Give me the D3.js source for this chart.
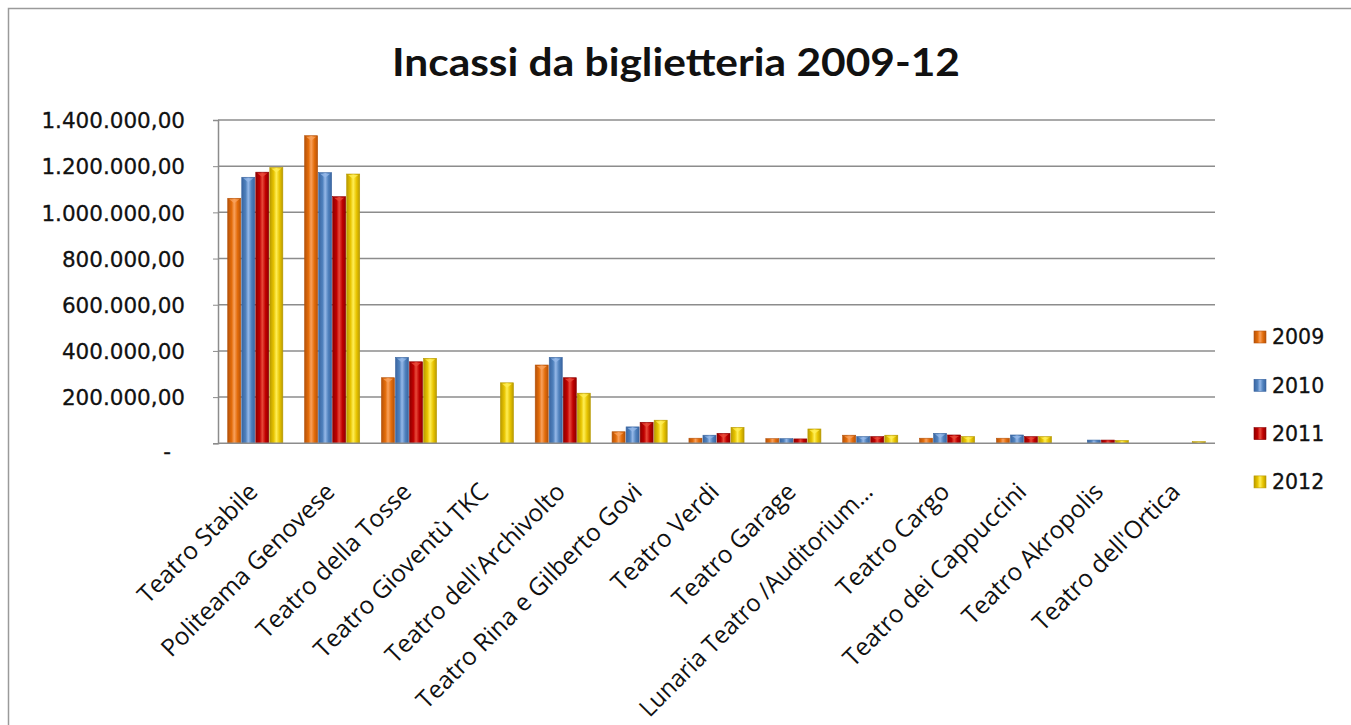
<!DOCTYPE html>
<html><head><meta charset="utf-8">
<script src="https://cdn.jsdelivr.net/npm/d3@7"></script>
<style>body{margin:0;background:#fff}svg{display:block}</style>
</head><body>
<svg id="c" width="1351" height="725"></svg>
<script>
const categories = ["Teatro Stabile","Politeama Genovese","Teatro della Tosse","Teatro Gioventù TKC","Teatro dell'Archivolto","Teatro Rina e Gilberto Govi","Teatro Verdi","Teatro Garage","Lunaria Teatro /Auditorium…","Teatro Cargo","Teatro dei Cappuccini","Teatro Akropolis","Teatro dell'Ortica"];
const seriesNames = ["2009","2010","2011","2012"];
const v2009 = [1061000,1332000,284000,0,339000,50000,22000,20000,35000,22000,22000,0,0];
const v2010 = [1152000,1172000,372000,0,372000,71000,35000,20000,29000,43000,36000,14000,0];
const v2011 = [1174000,1068000,353000,0,284000,91000,43000,19000,29000,36000,29000,14000,0];
const v2012 = [1194000,1166000,368000,262000,217000,100000,69000,62000,35000,29000,29000,12000,7000];
const yTicks = [0,200000,400000,600000,800000,1000000,1200000,1400000];
const titleText = "Incassi da biglietteria 2009-12";

const seriesValues = [v2009,v2010,v2011,v2012];
const colors = [
  {base:"#E36C0A", dark:"#B5520A", light:"#F9A15C"},
  {base:"#4F81BD", dark:"#3A65A0", light:"#95B8E8"},
  {base:"#C00000", dark:"#8E0000", light:"#E84A3A"},
  {base:"#E8C400", dark:"#B89A00", light:"#FFEE55"}
];

const svg = d3.select("#c");
const defs = svg.append("defs");
colors.forEach((c,i)=>{
  const g = defs.append("linearGradient").attr("id","g"+i).attr("x1","0").attr("x2","1").attr("y1","0").attr("y2","0");
  g.append("stop").attr("offset","0").attr("stop-color",c.dark);
  g.append("stop").attr("offset","0.3").attr("stop-color",c.base);
  g.append("stop").attr("offset","0.5").attr("stop-color",c.light);
  g.append("stop").attr("offset","0.75").attr("stop-color",c.base);
  g.append("stop").attr("offset","1").attr("stop-color",c.dark);
});

// frame
svg.append("path").attr("d","M8.5,725 V8.5 H1351").attr("fill","none").attr("stroke","#9a9a9a").attr("stroke-width",1.5);

const loc = d3.formatLocale({decimal:",",thousands:".",grouping:[3],currency:["",""]});
const fmt = loc.format(",.2f");

const x0 = d3.scaleBand().domain(categories).range([218,1215]).paddingInner(0.27).paddingOuter(0.12);
const x1 = d3.scaleBand().domain(seriesNames).range([0,x0.bandwidth()]).padding(0);
const y = d3.scaleLinear().domain([0,1400000]).range([443.3,120]);

// gridlines
svg.append("g").selectAll("line").data(yTicks.filter(d=>d>0)).join("line")
  .attr("x1",218).attr("x2",1215).attr("y1",d=>y(d)).attr("y2",d=>y(d))
  .attr("stroke","#8c8c8c").attr("stroke-width",1.5);

// y axis
const ya = svg.append("g").attr("transform","translate(218,0)")
  .call(d3.axisLeft(y).tickValues(yTicks).tickSize(5).tickPadding(28).tickFormat(d=>d===0?"-":fmt(d)));
ya.select(".domain").attr("stroke","#8c8c8c").attr("stroke-width",1.5);
ya.selectAll(".tick line").attr("stroke","#8c8c8c");
ya.selectAll(".tick text").attr("font-family","DejaVu Sans").attr("font-size","21.5px").attr("fill","#111")
  .attr("stroke","#111").attr("stroke-width",0.3).attr("dy","0.36em");
ya.selectAll(".tick").filter(d=>d===0).select("text").attr("dx",-14).attr("dy","0.7em");

// bars
const groups = svg.append("g").selectAll("g").data(categories).join("g")
  .attr("transform",d=>`translate(${x0(d)},0)`);
groups.each(function(cat,ci){
  const g = d3.select(this);
  seriesNames.forEach((s,si)=>{
    const val = seriesValues[si][ci];
    if(!val) return;
    const bx = x1(s), bw = x1.bandwidth();
    const top = y(val), h = y(0)-top;
    g.append("rect").attr("x",bx+0.5).attr("y",top).attr("width",bw-1).attr("height",h)
      .attr("fill",`url(#g${si})`).attr("stroke",colors[si].dark).attr("stroke-width",0.6);
    if(h>6){
      g.append("path").attr("d",`M${bx+2},${top+1} L${bx+bw-2},${top+1} L${bx+bw/2},${top+Math.min(5,h/2)} Z`)
        .attr("fill",colors[si].light).attr("opacity",0.8);
    }
  });
});

// baseline
svg.append("line").attr("x1",218).attr("x2",1215).attr("y1",y(0)).attr("y2",y(0)).attr("stroke","#8c8c8c").attr("stroke-width",1.5);

// x labels
const xl = svg.append("g").selectAll("text").data(categories).join("text")
  .attr("transform",d=>`translate(${x0(d)+x0.bandwidth()/2+4},${y(0)+50}) rotate(-45)`)
  .attr("text-anchor","end")
  .attr("font-family","Open Sans").attr("font-size","24.5px").attr("fill","#111")
  .text(d=>d);
xl.each(function(){
  const L = this.getComputedTextLength();
  if(L>318) d3.select(this).attr("textLength",318).attr("lengthAdjust","spacingAndGlyphs");
});

// title
svg.append("text").attr("x",676).attr("y",76).attr("text-anchor","middle")
  .attr("font-family","Lato").attr("font-weight","700").attr("font-size","39px").attr("fill","#111")
  .attr("textLength",568).attr("lengthAdjust","spacingAndGlyphs").text(titleText);

// legend
const lg = svg.append("g").selectAll("g").data(seriesNames).join("g")
  .attr("transform",(d,i)=>`translate(1254,${337+i*48.3})`);
lg.append("rect").attr("x",0).attr("y",-6).attr("width",12).attr("height",12)
  .attr("fill",(d,i)=>`url(#g${i})`).attr("stroke",(d,i)=>colors[i].dark).attr("stroke-width",0.6);
lg.append("text").attr("x",18).attr("y",0).attr("dy","0.36em")
  .attr("font-family","DejaVu Sans").attr("font-size","20.5px").attr("fill","#111")
  .attr("stroke","#111").attr("stroke-width",0.3).text(d=>d);
</script>
</body></html>
